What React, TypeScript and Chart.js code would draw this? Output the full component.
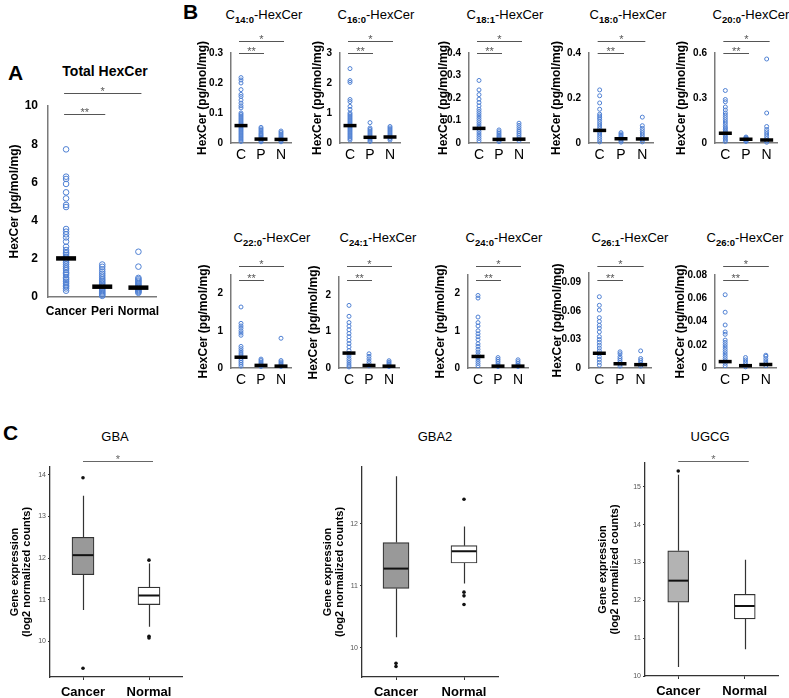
import React, { useEffect, useRef } from 'react';
import { Chart, registerables } from 'chart.js';

Chart.register(...registerables);

const FONT = "'Liberation Sans', Arial, Helvetica, sans-serif";
const BLUE = '#4f80d3';
const AXIS_GRAY = '#7a7a7a';

// ---------------- Panel A : Total HexCer ----------------
const groupsA = ['Cancer', 'Peri', 'Normal'];
const totalCancer = [7.73, 6.3, 6.18, 5.92, 5.48, 5.16, 4.82, 4.71, 3.56, 3.42, 3.28, 3.12, 2.9, 2.63, 2.46, 2.35, 2.29, 2.2, 2.11, 2.0, 1.9, 1.8, 1.7, 1.59, 1.5, 1.41, 1.3, 1.24, 1.15, 1.03, 0.95, 0.89, 0.8, 0.72, 0.62, 0.54, 0.45, 0.33];
const totalPeri = [1.7, 1.58, 1.45, 1.33, 1.22, 1.12, 1.02, 0.93, 0.85, 0.77, 0.7, 0.62, 0.55, 0.48, 0.42, 0.36, 0.3, 0.24, 0.18, 0.12, 0.06];
const totalNormal = [2.37, 1.59, 1.0, 0.93, 0.86, 0.8, 0.73, 0.66, 0.6, 0.54, 0.48, 0.42, 0.37, 0.32, 0.27, 0.22];
const totalMeans = [2.02, 0.54, 0.49];
const totalTicks = [0, 2, 4, 6, 8, 10];

// ---------------- Panel B : species ----------------
const groupsB = ['C', 'P', 'N'];

const c140C = [0.218, 0.21, 0.2, 0.178, 0.162, 0.155, 0.143, 0.133, 0.124, 0.117, 0.1, 0.095, 0.09, 0.085, 0.08, 0.075, 0.07, 0.065, 0.06, 0.055, 0.05, 0.045, 0.04, 0.035, 0.03, 0.025, 0.02, 0.015, 0.01, 0.005];
const c140P = [0.052, 0.047, 0.042, 0.037, 0.032, 0.028, 0.024, 0.02, 0.016, 0.012, 0.008, 0.004];
const c140N = [0.04, 0.035, 0.03, 0.025, 0.02, 0.016, 0.012, 0.008, 0.004];
const c140Mean = [0.058, 0.013, 0.012];
const c140Ticks = [0, 0.1, 0.2, 0.3];

const c160C = [2.48, 2.08, 2.02, 1.45, 1.38, 1.22, 1.12, 1.0, 0.95, 0.9, 0.85, 0.8, 0.75, 0.7, 0.65, 0.6, 0.55, 0.5, 0.45, 0.4, 0.35, 0.3, 0.25, 0.2, 0.15, 0.1];
const c160P = [0.68, 0.5, 0.45, 0.4, 0.35, 0.3, 0.25, 0.2, 0.15, 0.1, 0.05];
const c160N = [0.55, 0.5, 0.45, 0.4, 0.35, 0.3, 0.25, 0.2, 0.15, 0.1];
const c160Mean = [0.58, 0.19, 0.2];
const c160Ticks = [0, 1, 2, 3];

const c181C = [0.278, 0.236, 0.215, 0.195, 0.18, 0.165, 0.15, 0.14, 0.13, 0.12, 0.11, 0.1, 0.09, 0.08, 0.07, 0.06, 0.05, 0.04, 0.03, 0.02, 0.01];
const c181P = [0.058, 0.05, 0.043, 0.036, 0.03, 0.024, 0.018, 0.012, 0.006];
const c181N = [0.088, 0.078, 0.068, 0.058, 0.05, 0.042, 0.034, 0.026, 0.018, 0.01];
const c181Mean = [0.065, 0.016, 0.017];
const c181Ticks = [0, 0.1, 0.2, 0.3, 0.4];

const c180C = [0.236, 0.21, 0.178, 0.15, 0.128, 0.12, 0.112, 0.105, 0.095, 0.085, 0.075, 0.065, 0.055, 0.045, 0.035, 0.025, 0.015, 0.005];
const c180P = [0.046, 0.04, 0.034, 0.028, 0.022, 0.016, 0.01, 0.004];
const c180N = [0.115, 0.077, 0.065, 0.055, 0.045, 0.035, 0.025, 0.015, 0.005];
const c180Mean = [0.056, 0.019, 0.018];
const c180Ticks = [0, 0.2, 0.4];

const c200C = [0.35, 0.29, 0.275, 0.24, 0.22, 0.2, 0.185, 0.17, 0.155, 0.14, 0.125, 0.11, 0.1, 0.09, 0.08, 0.07, 0.06, 0.05, 0.04, 0.03, 0.02, 0.01];
const c200P = [0.04, 0.035, 0.03, 0.025, 0.02, 0.015, 0.01];
const c200N = [0.56, 0.2, 0.11, 0.09, 0.075, 0.06, 0.045, 0.03, 0.015, 0.005];
const c200Mean = [0.065, 0.025, 0.02];
const c200Ticks = [0, 0.3, 0.6];

const c220C = [1.64, 1.2, 1.13, 1.07, 1.0, 0.94, 0.88, 0.58, 0.52, 0.46, 0.4, 0.35, 0.3, 0.25, 0.2, 0.15, 0.1, 0.05];
const c220P = [0.24, 0.2, 0.16, 0.12, 0.08, 0.04];
const c220N = [0.8, 0.2, 0.16, 0.12, 0.08, 0.04];
const c220Mean = [0.29, 0.07, 0.05];

const c241C = [1.72, 1.42, 1.25, 1.15, 1.05, 0.95, 0.86, 0.76, 0.67, 0.58, 0.48, 0.4, 0.33, 0.26, 0.2, 0.14, 0.08, 0.03];
const c241P = [0.39, 0.32, 0.25, 0.18, 0.12, 0.06];
const c241N = [0.2, 0.16, 0.12, 0.08, 0.04];
const c241Mean = [0.41, 0.07, 0.05];

const c240C = [1.95, 1.88, 1.37, 1.22, 1.13, 1.0, 0.92, 0.84, 0.76, 0.65, 0.58, 0.5, 0.43, 0.36, 0.3, 0.24, 0.18, 0.12, 0.06];
const c240P = [0.28, 0.23, 0.18, 0.13, 0.08, 0.04];
const c240N = [0.22, 0.17, 0.12, 0.08, 0.04];
const c240Mean = [0.31, 0.05, 0.05];
const longChainTicks = [0, 1, 2];

const c261C = [0.075, 0.066, 0.061, 0.053, 0.049, 0.045, 0.042, 0.038, 0.033, 0.03, 0.027, 0.024, 0.021, 0.018, 0.015, 0.012, 0.009, 0.006, 0.003];
const c261P = [0.017, 0.015, 0.012, 0.01, 0.008, 0.006, 0.004, 0.002];
const c261N = [0.018, 0.01, 0.008, 0.006, 0.004, 0.002];
const c261Mean = [0.0155, 0.0045, 0.0035];
const c261Ticks = [0, 0.03, 0.06, 0.09];

const c260C = [0.063, 0.048, 0.037, 0.031, 0.029, 0.024, 0.022, 0.02, 0.018, 0.016, 0.014, 0.012, 0.01, 0.008, 0.006, 0.004, 0.002];
const c260P = [0.009, 0.007, 0.005, 0.003, 0.001];
const c260N = [0.011, 0.01, 0.008, 0.006, 0.004, 0.002];
const c260Mean = [0.0055, 0.002, 0.003];
const c260Ticks = [0, 0.02, 0.04, 0.06, 0.08];

// ---------------- Panel C : gene expression ----------------
const groupsC = ['Cancer', 'Normal'];

const gbaLow = [10.75, 10.35];
const gbaQ1 = [11.6, 10.88];
const gbaMedian = [12.07, 11.1];
const gbaQ3 = [12.5, 11.3];
const gbaHigh = [13.5, 11.87];
const gbaOutCancer = [13.93, 9.35];
const gbaOutNormal = [11.95, 10.12, 10.08];
const gbaTicks = [10, 11, 12, 13, 14];

const gba2Low = [10.17, 11.04];
const gba2Q1 = [10.96, 11.37];
const gba2Median = [11.28, 11.56];
const gba2Q3 = [11.7, 11.65];
const gba2High = [12.77, 11.96];
const gba2OutCancer = [9.75, 9.7];
const gba2OutNormal = [12.4, 10.9, 10.84, 10.7];
const gba2Ticks = [10, 11, 12];

const ugcgLow = [10.24, 10.71];
const ugcgQ1 = [11.95, 11.51];
const ugcgMedian = [12.52, 11.85];
const ugcgQ3 = [13.31, 12.16];
const ugcgHigh = [15.32, 13.07];
const ugcgOutCancer = [15.42];
const ugcgOutNormal: number[] = [];
const ugcgTicks = [10, 11, 12, 13, 14, 15];

// ---------------- helpers ----------------
type Area = { x0: number; x1: number; y0: number; y1: number; yW: number; xH: number; padT: number; padR: number };

function canvasRect(a: Area) {
  return {
    left: a.x0 - a.yW,
    top: a.y0 - a.padT,
    width: a.yW + (a.x1 - a.x0) + a.padR,
    height: a.padT + (a.y1 - a.y0) + a.xH,
  };
}

type Bracket = { from: number; to: number; label: string; yAbs: number };

function bracketPlugin(brackets: Bracket[], y0: number, o: { color: string; size: number; padL: number; padR: number }) {
  return {
    id: 'sigBrackets',
    afterDraw(chart: any) {
      const { ctx, chartArea } = chart;
      const x = chart.scales.x;
      ctx.save();
      ctx.strokeStyle = o.color;
      ctx.fillStyle = o.color;
      ctx.lineWidth = 1;
      ctx.font = `${o.size}px ${FONT}`;
      ctx.textAlign = 'center';
      ctx.textBaseline = 'alphabetic';
      for (const b of brackets) {
        const xa = x.getPixelForValue(b.from) - o.padL;
        const xb = x.getPixelForValue(b.to) + o.padR;
        const y = Math.round(chartArea.top + (b.yAbs - y0)) + 0.5;
        ctx.beginPath();
        ctx.moveTo(xa, y);
        ctx.lineTo(xb, y);
        ctx.stroke();
        ctx.fillText(b.label, (xa + xb) / 2, y + 1);
      }
      ctx.restore();
    },
  };
}

const fmt = (v: any) => String(+Number(v).toFixed(4));

function ChartCanvas({ area, config }: { area: Area; config: any }) {
  const ref = useRef<HTMLCanvasElement>(null);
  const r = canvasRect(area);
  useEffect(() => {
    const chart = new Chart(ref.current as HTMLCanvasElement, config);
    return () => chart.destroy();
  }, []);
  return (
    <canvas
      ref={ref}
      width={r.width}
      height={r.height}
      style={{ position: 'absolute', left: r.left, top: r.top, width: r.width, height: r.height }}
    />
  );
}

type DotSpec = {
  area: Area;
  groups: string[];
  series: number[][];
  means: number[];
  ticks: number[];
  max: number;
  starY: number;
  doubleY: number;
  pointR: number;
  meanR: number;
  meanW: number;
  tickFont: number;
  xFont: number;
  xBold: boolean;
  xPad: number;
  yPad: number;
  titleSize: number;
};

function dotConfig(s: DotSpec) {
  const datasets: any[] = [
    {
      type: 'line',
      data: s.means.map((m, i) => ({ x: s.groups[i], y: m })),
      showLine: false,
      pointStyle: 'line',
      pointRadius: s.meanR,
      pointBorderWidth: s.meanW,
      pointBorderColor: '#000',
      pointBackgroundColor: '#000',
      order: 0,
      clip: false,
    },
    ...s.series.map((vals, gi) => ({
      type: 'line',
      data: vals.map((v) => ({ x: s.groups[gi], y: v })),
      showLine: false,
      pointStyle: 'circle',
      pointRadius: s.pointR,
      pointBorderWidth: 1,
      pointBorderColor: BLUE,
      pointBackgroundColor: 'rgba(255,255,255,0)',
      order: 1,
      clip: false,
    })),
  ];
  const brackets: Bracket[] = [
    { from: 0, to: 2, label: '*', yAbs: s.starY },
    { from: 0, to: 1, label: '**', yAbs: s.doubleY },
  ];
  return {
    type: 'line',
    data: { labels: s.groups, datasets },
    options: {
      responsive: false,
      maintainAspectRatio: false,
      animation: false,
      events: [],
      layout: { padding: { top: s.area.padT, right: s.area.padR, left: 0, bottom: 0 } },
      plugins: { legend: { display: false }, tooltip: { enabled: false } },
      scales: {
        x: {
          type: 'category',
          offset: true,
          grid: { display: false, drawTicks: false },
          border: { display: true, color: AXIS_GRAY, width: 1.5 },
          ticks: {
            color: '#000',
            padding: s.xPad,
            maxRotation: 0,
            autoSkip: false,
            font: { family: FONT, size: s.xFont, weight: s.xBold ? 'bold' : 'normal' },
          },
          afterFit: (sc: any) => { sc.height = s.area.xH; },
        },
        y: {
          type: 'linear',
          min: 0,
          max: s.max,
          grid: { display: false, drawTicks: false },
          border: { display: true, color: AXIS_GRAY, width: 1.5 },
          ticks: {
            color: '#000',
            padding: s.yPad,
            font: { family: FONT, size: s.tickFont, weight: 'bold' },
            callback: fmt,
          },
          afterBuildTicks: (sc: any) => { sc.ticks = s.ticks.map((v) => ({ value: v })); },
          afterFit: (sc: any) => { sc.width = s.area.yW; },
          title: {
            display: true,
            text: 'HexCer (pg/mol/mg)',
            color: '#000',
            padding: 0,
            font: { family: FONT, size: s.titleSize, weight: 'bold', lineHeight: 1.2 },
          },
        },
      },
    },
    plugins: [bracketPlugin(brackets, s.area.y0, { color: '#555', size: 11, padL: 2, padR: 3 })],
  };
}

type BoxSpec = {
  area: Area;
  min: number;
  max: number;
  ticks: number[];
  low: number[];
  q1: number[];
  median: number[];
  q3: number[];
  high: number[];
  outCancer: number[];
  outNormal: number[];
  fills: string[];
  boxW: number;
  starY: number | null;
};

function boxConfig(s: BoxSpec) {
  const outliers = [
    ...s.outCancer.map((v) => ({ x: groupsC[0], y: v })),
    ...s.outNormal.map((v) => ({ x: groupsC[1], y: v })),
  ];
  const datasets: any[] = [
    {
      type: 'bar',
      data: s.q1.map((q, i) => [q, s.q3[i]]),
      backgroundColor: s.fills,
      borderColor: '#333',
      borderWidth: 1.2,
      borderSkipped: false,
      barThickness: s.boxW,
      order: 2,
    },
    {
      type: 'line',
      data: outliers,
      showLine: false,
      pointStyle: 'circle',
      pointRadius: 1.8,
      pointBorderWidth: 0,
      pointBackgroundColor: '#111',
      pointBorderColor: '#111',
      order: 1,
      clip: false,
    },
  ];
  const whiskerPlugin = {
    id: 'whiskers',
    beforeDatasetsDraw(chart: any) {
      const { ctx } = chart;
      const x = chart.scales.x;
      const y = chart.scales.y;
      ctx.save();
      ctx.strokeStyle = '#333';
      ctx.lineWidth = 1.2;
      s.q1.forEach((_, i) => {
        const px = Math.round(x.getPixelForValue(i)) + 0.5;
        ctx.beginPath();
        ctx.moveTo(px, y.getPixelForValue(s.high[i]));
        ctx.lineTo(px, y.getPixelForValue(s.q3[i]));
        ctx.moveTo(px, y.getPixelForValue(s.q1[i]));
        ctx.lineTo(px, y.getPixelForValue(s.low[i]));
        ctx.stroke();
      });
      ctx.restore();
    },
    afterDatasetsDraw(chart: any) {
      const { ctx } = chart;
      const x = chart.scales.x;
      const y = chart.scales.y;
      ctx.save();
      ctx.strokeStyle = '#111';
      ctx.lineWidth = 2;
      s.median.forEach((m, i) => {
        const px = x.getPixelForValue(i);
        const py = y.getPixelForValue(m);
        ctx.beginPath();
        ctx.moveTo(px - s.boxW / 2 + 0.6, py);
        ctx.lineTo(px + s.boxW / 2 - 0.6, py);
        ctx.stroke();
      });
      ctx.restore();
    },
  };
  const plugins: any[] = [whiskerPlugin];
  if (s.starY !== null) {
    plugins.push(bracketPlugin([{ from: 0, to: 1, label: '*', yAbs: s.starY }], s.area.y0, { color: '#666', size: 11, padL: 0, padR: 4 }));
  }
  return {
    type: 'bar',
    data: { labels: groupsC, datasets },
    options: {
      responsive: false,
      maintainAspectRatio: false,
      animation: false,
      events: [],
      layout: { padding: { top: s.area.padT, right: s.area.padR, left: 0, bottom: 0 } },
      plugins: { legend: { display: false }, tooltip: { enabled: false } },
      scales: {
        x: {
          type: 'category',
          offset: true,
          grid: { display: true, offset: false, drawOnChartArea: false, drawTicks: true, tickLength: 3, color: '#333' },
          border: { display: true, color: '#333', width: 1.3 },
          ticks: {
            color: '#000',
            padding: 5,
            maxRotation: 0,
            autoSkip: false,
            font: { family: FONT, size: 13, weight: 'bold' },
          },
          afterFit: (sc: any) => { sc.height = s.area.xH; },
        },
        y: {
          type: 'linear',
          min: s.min,
          max: s.max,
          grid: { display: true, drawOnChartArea: false, drawTicks: true, tickLength: 2, color: '#333' },
          border: { display: true, color: '#333', width: 1.3 },
          ticks: {
            color: '#555',
            padding: 2,
            font: { family: FONT, size: 7 },
            callback: fmt,
          },
          afterBuildTicks: (sc: any) => { sc.ticks = s.ticks.map((v) => ({ value: v })); },
          afterFit: (sc: any) => { sc.width = s.area.yW; },
          title: {
            display: true,
            text: ['Gene expression', '(log2 normalized counts)'],
            color: '#000',
            padding: 0,
            font: { family: FONT, size: 11, weight: 'bold', lineHeight: 1.1 },
          },
        },
      },
    },
    plugins,
  };
}

// ---------------- layout ----------------
const A_AREA: Area = { x0: 48, x1: 165, y0: 106, y1: 297, yW: 41, xH: 24, padT: 22, padR: 6 };

const topRow = (x0: number, x1: number, yW: number): Area => ({ x0, x1, y0: 53, y1: 143, yW, xH: 22, padT: 22, padR: 5 });
const botRow = (x0: number, x1: number, y0: number, yW: number): Area => ({ x0, x1, y0, y1: 368, yW, xH: 22, padT: 22 + (y0 - 275), padR: 5 });

function dotB(area: Area, series: number[][], means: number[], ticks: number[], max: number, starY: number, doubleY: number): DotSpec {
  return {
    area, groups: groupsB, series, means, ticks, max, starY, doubleY,
    pointR: 2, meanR: 6.5, meanW: 3.5, tickFont: 10, xFont: 14, xBold: false, xPad: 4, yPad: 8, titleSize: 12,
  };
}

const panelsB: { title: string; sub: string; cx: number; top: number; spec: DotSpec }[] = [
  { sub: '14:0', title: 'C14', cx: 264, top: 8, spec: dotB(topRow(231, 296, 36), [c140C, c140P, c140N], c140Mean, c140Ticks, 0.3, 41, 53) },
  { sub: '16:0', title: 'C16', cx: 376, top: 8, spec: dotB(topRow(340, 405, 30), [c160C, c160P, c160N], c160Mean, c160Ticks, 3, 41, 53) },
  { sub: '18:1', title: 'C181', cx: 505, top: 8, spec: dotB(topRow(469, 534, 33), [c181C, c181P, c181N], c181Mean, c181Ticks, 0.4, 41, 53) },
  { sub: '18:0', title: 'C180', cx: 628, top: 8, spec: dotB(topRow(589, 658, 40), [c180C, c180P, c180N], c180Mean, c180Ticks, 0.4, 41, 53) },
  { sub: '20:0', title: 'C200', cx: 751, top: 8, spec: dotB(topRow(715, 782, 41), [c200C, c200P, c200N], c200Mean, c200Ticks, 0.6, 41, 53) },
  { sub: '22:0', title: 'C220', cx: 272, top: 231, spec: dotB(botRow(231, 296, 275, 35), [c220C, c220P, c220N], c220Mean, longChainTicks, 2.5, 266, 280) },
  { sub: '24:1', title: 'C241', cx: 378, top: 231, spec: dotB(botRow(339, 404, 277, 33), [c241C, c241P, c241N], c241Mean, longChainTicks, 2.5, 266, 280) },
  { sub: '24:0', title: 'C240', cx: 504, top: 231, spec: dotB(botRow(468, 533, 275, 35), [c240C, c240P, c240N], c240Mean, longChainTicks, 2.5, 266, 280) },
  { sub: '26:1', title: 'C261', cx: 630, top: 231, spec: dotB(botRow(589, 656, 273, 39), [c261C, c261P, c261N], c261Mean, c261Ticks, 0.1, 266, 280) },
  { sub: '26:0', title: 'C260', cx: 745, top: 231, spec: dotB(botRow(715, 781, 275, 42), [c260C, c260P, c260N], c260Mean, c260Ticks, 0.08, 266, 280) },
];

const specA: DotSpec = {
  area: A_AREA, groups: groupsA, series: [totalCancer, totalPeri, totalNormal], means: totalMeans,
  ticks: totalTicks, max: 10, starY: 93, doubleY: 114,
  pointR: 2.8, meanR: 10, meanW: 4.5, tickFont: 12, xFont: 12, xBold: true, xPad: 7, yPad: 10, titleSize: 12,
};

const boxPanels: { name: string; cx: number; spec: BoxSpec }[] = [
  {
    name: 'GBA', cx: 115,
    spec: {
      area: { x0: 50, x1: 182, y0: 467, y1: 677, yW: 41, xH: 21, padT: 18, padR: 4 },
      min: 9.14, max: 14.19, ticks: gbaTicks,
      low: gbaLow, q1: gbaQ1, median: gbaMedian, q3: gbaQ3, high: gbaHigh,
      outCancer: gbaOutCancer, outNormal: gbaOutNormal,
      fills: ['#999999', '#ffffff'], boxW: 22, starY: 461,
    },
  },
  {
    name: 'GBA2', cx: 435,
    spec: {
      area: { x0: 362, x1: 498, y0: 467, y1: 677, yW: 40, xH: 21, padT: 18, padR: 4 },
      min: 9.53, max: 12.92, ticks: gba2Ticks,
      low: gba2Low, q1: gba2Q1, median: gba2Median, q3: gba2Q3, high: gba2High,
      outCancer: gba2OutCancer, outNormal: gba2OutNormal,
      fills: ['#999999', '#ffffff'], boxW: 26, starY: null,
    },
  },
  {
    name: 'UGCG', cx: 710,
    spec: {
      area: { x0: 645, x1: 778, y0: 463, y1: 676, yW: 48, xH: 22, padT: 16, padR: 4 },
      min: 10, max: 15.63, ticks: ugcgTicks,
      low: ugcgLow, q1: ugcgQ1, median: ugcgMedian, q3: ugcgQ3, high: ugcgHigh,
      outCancer: ugcgOutCancer, outNormal: ugcgOutNormal,
      fills: ['#b3b3b3', '#ffffff'], boxW: 21, starY: 461,
    },
  },
];

const textBase: React.CSSProperties = { position: 'absolute', fontFamily: FONT, color: '#000', whiteSpace: 'nowrap', lineHeight: 1 };

function SpeciesTitle({ cx, top, sub }: { cx: number; top: number; sub: string }) {
  return (
    <div style={{ ...textBase, left: cx - 70, width: 140, top, textAlign: 'center', fontSize: 13 }}>
      C<span style={{ fontSize: 9.5, fontWeight: 'bold', position: 'relative', top: 4 }}>{sub}</span>-HexCer
    </div>
  );
}

export default function App() {
  return (
    <div style={{ position: 'absolute', left: 0, top: 0, width: 789, height: 698, overflow: 'hidden', background: '#fff' }}>
      <div style={{ ...textBase, left: 8, top: 62, fontSize: 21, fontWeight: 'bold' }}>A</div>
      <div style={{ ...textBase, left: 183, top: 1, fontSize: 21, fontWeight: 'bold' }}>B</div>
      <div style={{ ...textBase, left: 3, top: 422, fontSize: 21, fontWeight: 'bold' }}>C</div>
      <div style={{ ...textBase, left: 45, width: 120, top: 64, textAlign: 'center', fontSize: 14, fontWeight: 'bold' }}>Total HexCer</div>

      <ChartCanvas area={specA.area} config={dotConfig(specA)} />

      {panelsB.map((p) => (
        <React.Fragment key={p.title}>
          <SpeciesTitle cx={p.cx} top={p.top} sub={p.sub} />
          <ChartCanvas area={p.spec.area} config={dotConfig(p.spec)} />
        </React.Fragment>
      ))}

      {boxPanels.map((p) => (
        <React.Fragment key={p.name}>
          <div style={{ ...textBase, left: p.cx - 50, width: 100, top: 430, textAlign: 'center', fontSize: 13 }}>{p.name}</div>
          <ChartCanvas area={p.spec.area} config={boxConfig(p.spec)} />
        </React.Fragment>
      ))}
    </div>
  );
}
